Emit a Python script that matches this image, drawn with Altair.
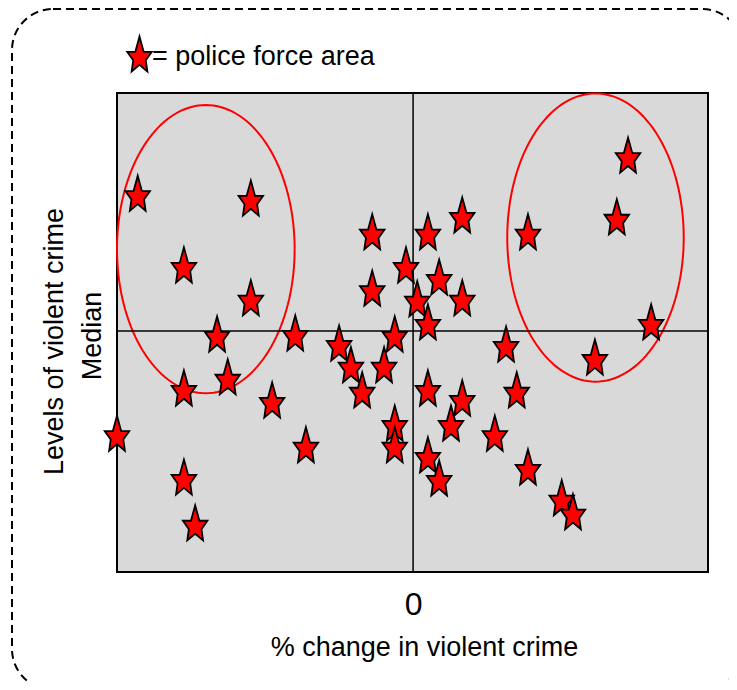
import altair as alt
import pandas as pd
import numpy as np

# ---- data ----
x_change = [-46.5, -27.4, -38.7, -27.4, -33.1, -19.9, -31.3, -38.7, -23.8, -50.0,
            -18.1, -38.7, -36.8, -12.5, -10.5, -4.9, -8.6, -6.9, -6.9, -3.1,
            -1.2, -3.1, -3.1, 0.7, 2.5, 2.5, 4.4, 8.3, 8.3, 2.5,
            8.3, 6.4, 2.5, 4.4, 15.7, 17.5, 13.8, 19.4, 25.1, 27.0,
            19.4, 34.4, 36.3, 40.2, 30.7]
y_level = [28.6, 27.6, 13.7, 6.9, -0.6, -0.4, -9.5, -11.8, -14.3, -21.2,
           -23.6, -30.3, -39.8, -2.5, -7.0, -7.0, -12.2, 20.6, 8.9, -0.6,
           13.7, -19.1, -23.6, 6.7, 20.6, 1.9, 11.2, 24.1, 6.9, -11.8,
           -13.9, -19.1, -25.7, -30.5, -2.7, -12.2, -21.2, -28.2, -34.6, -37.5,
           20.6, 23.7, 36.5, 1.9, -5.4]

# highlighted groups (ellipses): centre and radii in data units
ell_cx = [-35.0, 30.8]
ell_cy = [17.0, 19.4]
ell_rx = [15.0, 14.9]
ell_ry = [29.9, 29.9]

x_tick_values = [0]
median_value = [0]

x_title = "% change in violent crime"
y_title = "Levels of violent crime"
median_label = "Median"
legend_label = "= police force area"

# ---- build tables ----
pts = pd.DataFrame({"x": x_change, "y": y_level})

rows = []
for g in range(len(ell_cx)):
    t = np.linspace(0, 2 * np.pi, 145)
    for k, a in enumerate(t):
        rows.append({"g": g, "o": k,
                     "x": ell_cx[g] + ell_rx[g] * np.cos(a),
                     "y": ell_cy[g] + ell_ry[g] * np.sin(a)})
ell = pd.DataFrame(rows)

xs = alt.Scale(domain=[-50, 49.8], nice=False, zero=False)
ys = alt.Scale(domain=[-50, 49.4], nice=False, zero=False)

STAR = ("M 0 -1 L 0.24 -0.12 L 0.7 -0.12 L 0.36 0.36 L 0.45 1 L 0 0.62 "
        "L -0.45 1 L -0.36 0.36 L -0.7 -0.12 L -0.24 -0.12 Z")
FONT = "Liberation Sans"

one = pd.DataFrame({"a": [0]})

frame = alt.Chart(one).mark_rect(
    cornerRadius=41, fill="white", fillOpacity=0, stroke="black",
    strokeWidth=2, strokeDash=[8, 5]
).encode(x=alt.value(-105), x2=alt.value(626), y=alt.value(-84), y2=alt.value(597))

base_axes = alt.Chart(pd.DataFrame({"x": x_tick_values, "y": median_value})).mark_point(opacity=0).encode(
    x=alt.X("x:Q", scale=xs,
            axis=alt.Axis(values=x_tick_values, ticks=False, tickSize=0, domain=False, grid=False,
                          labelFontSize=32, labelFont=FONT, labelColor="black",
                          labelBaseline="alphabetic", labelPadding=42,
                          title=x_title, titleFontSize=27, titleFont=FONT,
                          titleFontWeight="normal", titleColor="black",
                          titleX=307, titleY=83, titleAlign="center",
                          titleBaseline="alphabetic")),
    y=alt.Y("y:Q", scale=ys,
            axis=alt.Axis(labels=False, ticks=False, domain=False, grid=False,
                          title=y_title, titleFontSize=27, titleFont=FONT,
                          titleFontWeight="normal", titleColor="black",
                          titleX=-55, titleY=248, titleAlign="center",
                          titleBaseline="alphabetic")),
)

vrule = alt.Chart(pd.DataFrame({"x": x_tick_values})).mark_rule(
    color="black", strokeWidth=1.5).encode(x=alt.X("x:Q", scale=xs))
hrule = alt.Chart(pd.DataFrame({"y": median_value})).mark_rule(
    color="black", strokeWidth=1.5).encode(y=alt.Y("y:Q", scale=ys))

ellipses = alt.Chart(ell).mark_line(color="#ff0000", strokeWidth=2).encode(
    x=alt.X("x:Q", scale=xs), y=alt.Y("y:Q", scale=ys),
    detail="g:N", order="o:Q")

stars = alt.Chart(pts).mark_point(
    shape=STAR, size=1225, filled=True, fill="#ff0000", stroke="black",
    strokeWidth=1.8, opacity=1, fillOpacity=1
).encode(x=alt.X("x:Q", scale=xs), y=alt.Y("y:Q", scale=ys))

median_text = alt.Chart(one).mark_text(
    text=median_label, angle=270, align="center", baseline="alphabetic",
    fontSize=27, font=FONT, color="black"
).encode(x=alt.value(-16), y=alt.value(243))

legend_star = alt.Chart(one).mark_point(
    shape=STAR, size=1225, filled=True, fill="#ff0000", stroke="black",
    strokeWidth=1.8, opacity=1
).encode(x=alt.value(22.5), y=alt.value(-39))

legend_text = alt.Chart(one).mark_text(
    text=legend_label, align="left", baseline="alphabetic",
    fontSize=27, font=FONT, color="black"
).encode(x=alt.value(35), y=alt.value(-28))

chart = alt.layer(
    frame, base_axes, ellipses, vrule, hrule, stars, median_text, legend_star, legend_text
).properties(
    width=591, height=479,
    autosize=alt.AutoSizeParams(type="none"),
    padding={"left": 109, "top": 85, "right": 21, "bottom": 110},
).configure_view(
    fill="#d9d9d9", stroke="black", strokeWidth=2
)

chart.save("out.html", embed_options={"renderer": "svg", "actions": False})
